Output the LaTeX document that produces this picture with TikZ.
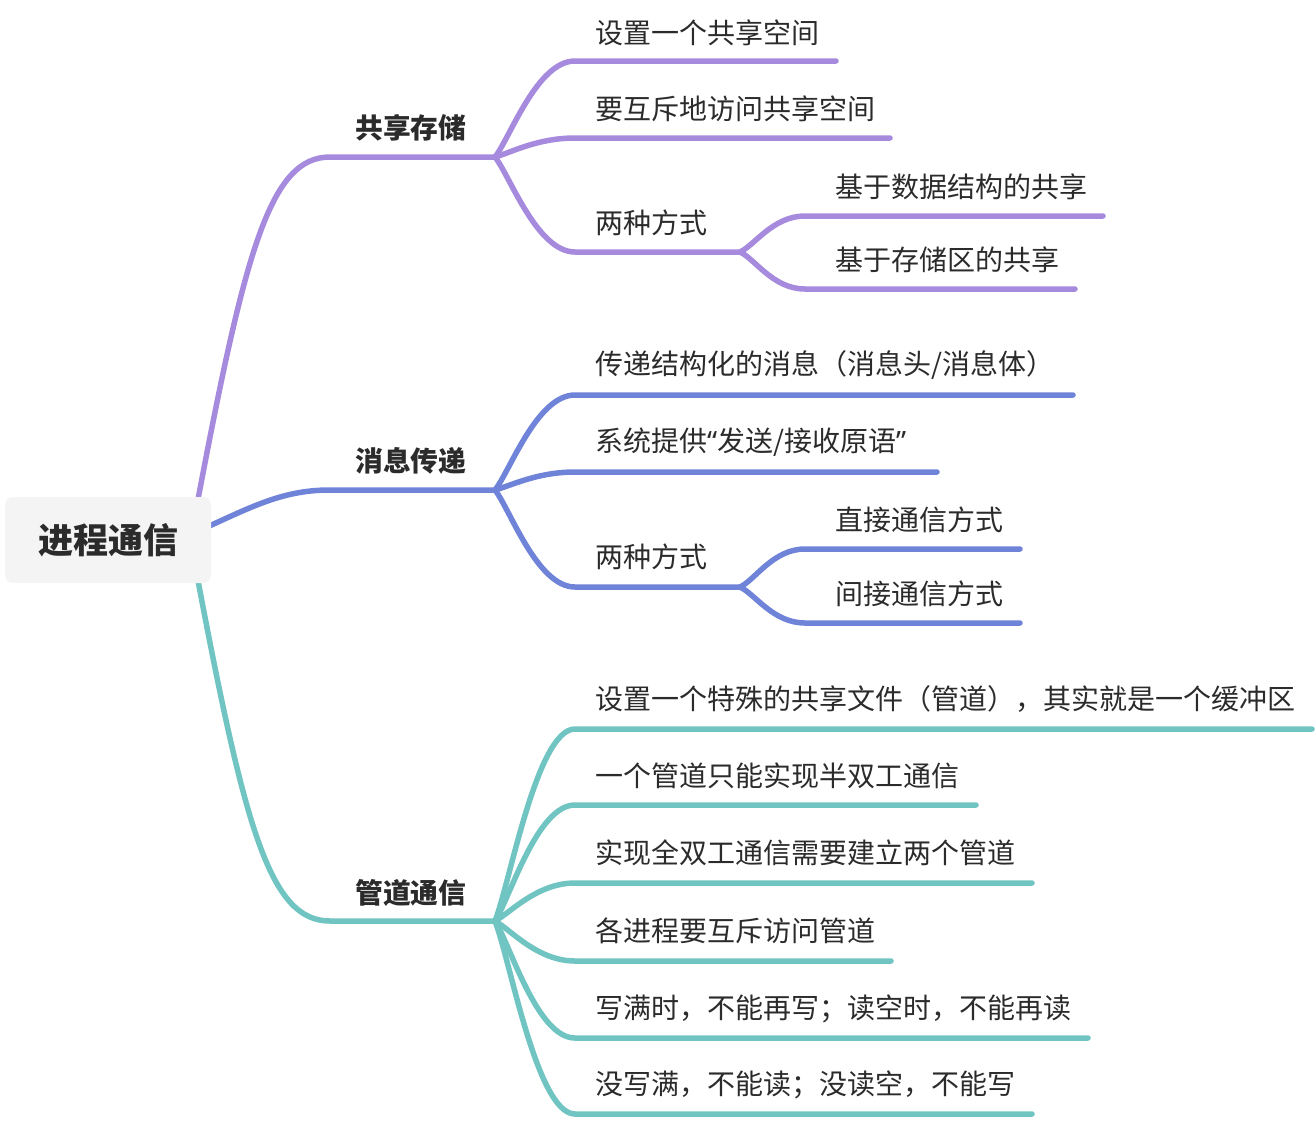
\documentclass[tikz,border=0pt]{standalone}
\usepackage{fontspec}
\setmainfont{Noto Sans CJK SC}
\newfontfamily\latinq{Noto Sans}
\usetikzlibrary{backgrounds}
\definecolor{cpur}{HTML}{A68ADD}
\definecolor{cblu}{HTML}{6F84D9}
\definecolor{ctea}{HTML}{70C4C2}
\definecolor{ctxt}{HTML}{2B2B2B}
\definecolor{cbox}{HTML}{F4F4F5}
\begin{document}
\begin{tikzpicture}[x=1pt,y=-1pt,
  conn/.style={line width=5.5pt,line cap=round,line join=round},
  rootbox/.style={fill=cbox,rounded corners=8pt,minimum width=206pt,minimum height=86pt,inner sep=0pt,
    font=\fontsize{35}{40}\selectfont\bfseries,text=ctxt},
  lvone/.style={anchor=west,inner sep=0pt,font=\fontsize{27.8}{32}\selectfont\bfseries,text=ctxt},
  leaf/.style={anchor=west,inner sep=0pt,font=\fontsize{28}{32}\selectfont,text=ctxt}]
\useasboundingbox (0,0) rectangle (1316,1120);
\node[rootbox] (root) at (108,540) {进程通信};
% connection points
\coordinate (r1) at (196,510);
\coordinate (r2) at (205,528);
\coordinate (r3) at (196,570);
\coordinate (a1) at (330,157); \coordinate (b1) at (495,157);
\coordinate (a2) at (330,490); \coordinate (b2) at (495,490);
\coordinate (a3) at (330,921); \coordinate (b3) at (495,921);
% level one labels
\node[lvone] (n1) at (355,128) {共享存储};
\node[lvone] (n2) at (355,461) {消息传递};
\node[lvone] (n3) at (355,893) {管道通信};
% purple leaves
\node[leaf] (p1) at (595,33) {设置一个共享空间};
\node[leaf] (p2) at (595,109) {要互斥地访问共享空间};
\node[leaf] (p3) at (595,223) {两种方式};
\node[leaf] (p31) at (835,187) {基于数据结构的共享};
\node[leaf] (p32) at (835,260) {基于存储区的共享};
% blue leaves
\node[leaf] (q1) at (595,365) {传递结构化的消息（消息头/消息体）};
\node[leaf] (q2) at (595,442) {系统提供{\latinq “}发送/接收原语{\latinq ”}};
\node[leaf] (q3) at (595,557) {两种方式};
\node[leaf] (q31) at (835,520) {直接通信方式};
\node[leaf] (q32) at (835,594) {间接通信方式};
% teal leaves
\node[leaf] (t1) at (595,699) {设置一个特殊的共享文件（管道），其实就是一个缓冲区};
\node[leaf] (t2) at (595,776) {一个管道只能实现半双工通信};
\node[leaf] (t3) at (595,853) {实现全双工通信需要建立两个管道};
\node[leaf] (t4) at (595,931) {各进程要互斥访问管道};
\node[leaf] (t5) at (595,1009) {写满时，不能再写；读空时，不能再读};
\node[leaf] (t6) at (595,1085) {没写满，不能读；没读空，不能写};
\begin{scope}[on background layer]
% root to level one
\draw[conn,cpur] (r1) .. controls (245,250) and (270,157) .. (a1) -- (b1);
\draw[conn,cblu] (r2) .. controls (255,505) and (285,490) .. (a2) -- (b2);
\draw[conn,ctea] (r3) .. controls (245,830) and (270,921) .. (a3) -- (b3);
% purple
\draw[conn,cpur] (b1) .. controls +(15,-19) and +(-38,0) .. (575,61) -- (836,61);
\draw[conn,cpur] (b1) .. controls +(15,-4) and +(-38,0) .. (575,138) -- (890,138);
\draw[conn,cpur] (b1) .. controls +(15,19) and +(-38,0) .. (575,252) -- (740,252) coordinate (f1);
\draw[conn,cpur] (f1) .. controls +(15,-7) and +(-32,0) .. (805,216) -- (1103,216);
\draw[conn,cpur] (f1) .. controls +(15,7) and +(-32,0) .. (805,289) -- (1075,289);
% blue
\draw[conn,cblu] (b2) .. controls +(15,-19) and +(-38,0) .. (575,395) -- (1073,395);
\draw[conn,cblu] (b2) .. controls +(15,-4) and +(-38,0) .. (575,472) -- (937,472);
\draw[conn,cblu] (b2) .. controls +(15,19) and +(-38,0) .. (575,587) -- (740,587) coordinate (f2);
\draw[conn,cblu] (f2) .. controls +(15,-7) and +(-32,0) .. (805,549) -- (1020,549);
\draw[conn,cblu] (f2) .. controls +(15,7) and +(-32,0) .. (805,623) -- (1020,623);
% teal
\draw[conn,ctea] (b3) .. controls +(15,-38) and +(-38,0) .. (575,729) -- (1312,729);
\draw[conn,ctea] (b3) .. controls +(15,-23) and +(-38,0) .. (575,805) -- (976,805);
\draw[conn,ctea] (b3) .. controls +(15,-8) and +(-38,0) .. (575,883) -- (1032,883);
\draw[conn,ctea] (b3) .. controls +(15,8) and +(-38,0) .. (575,961) -- (891,961);
\draw[conn,ctea] (b3) .. controls +(15,23) and +(-38,0) .. (575,1038) -- (1088,1038);
\draw[conn,ctea] (b3) .. controls +(15,38) and +(-38,0) .. (575,1114) -- (1032,1114);
\end{scope}
\end{tikzpicture}
\end{document}
